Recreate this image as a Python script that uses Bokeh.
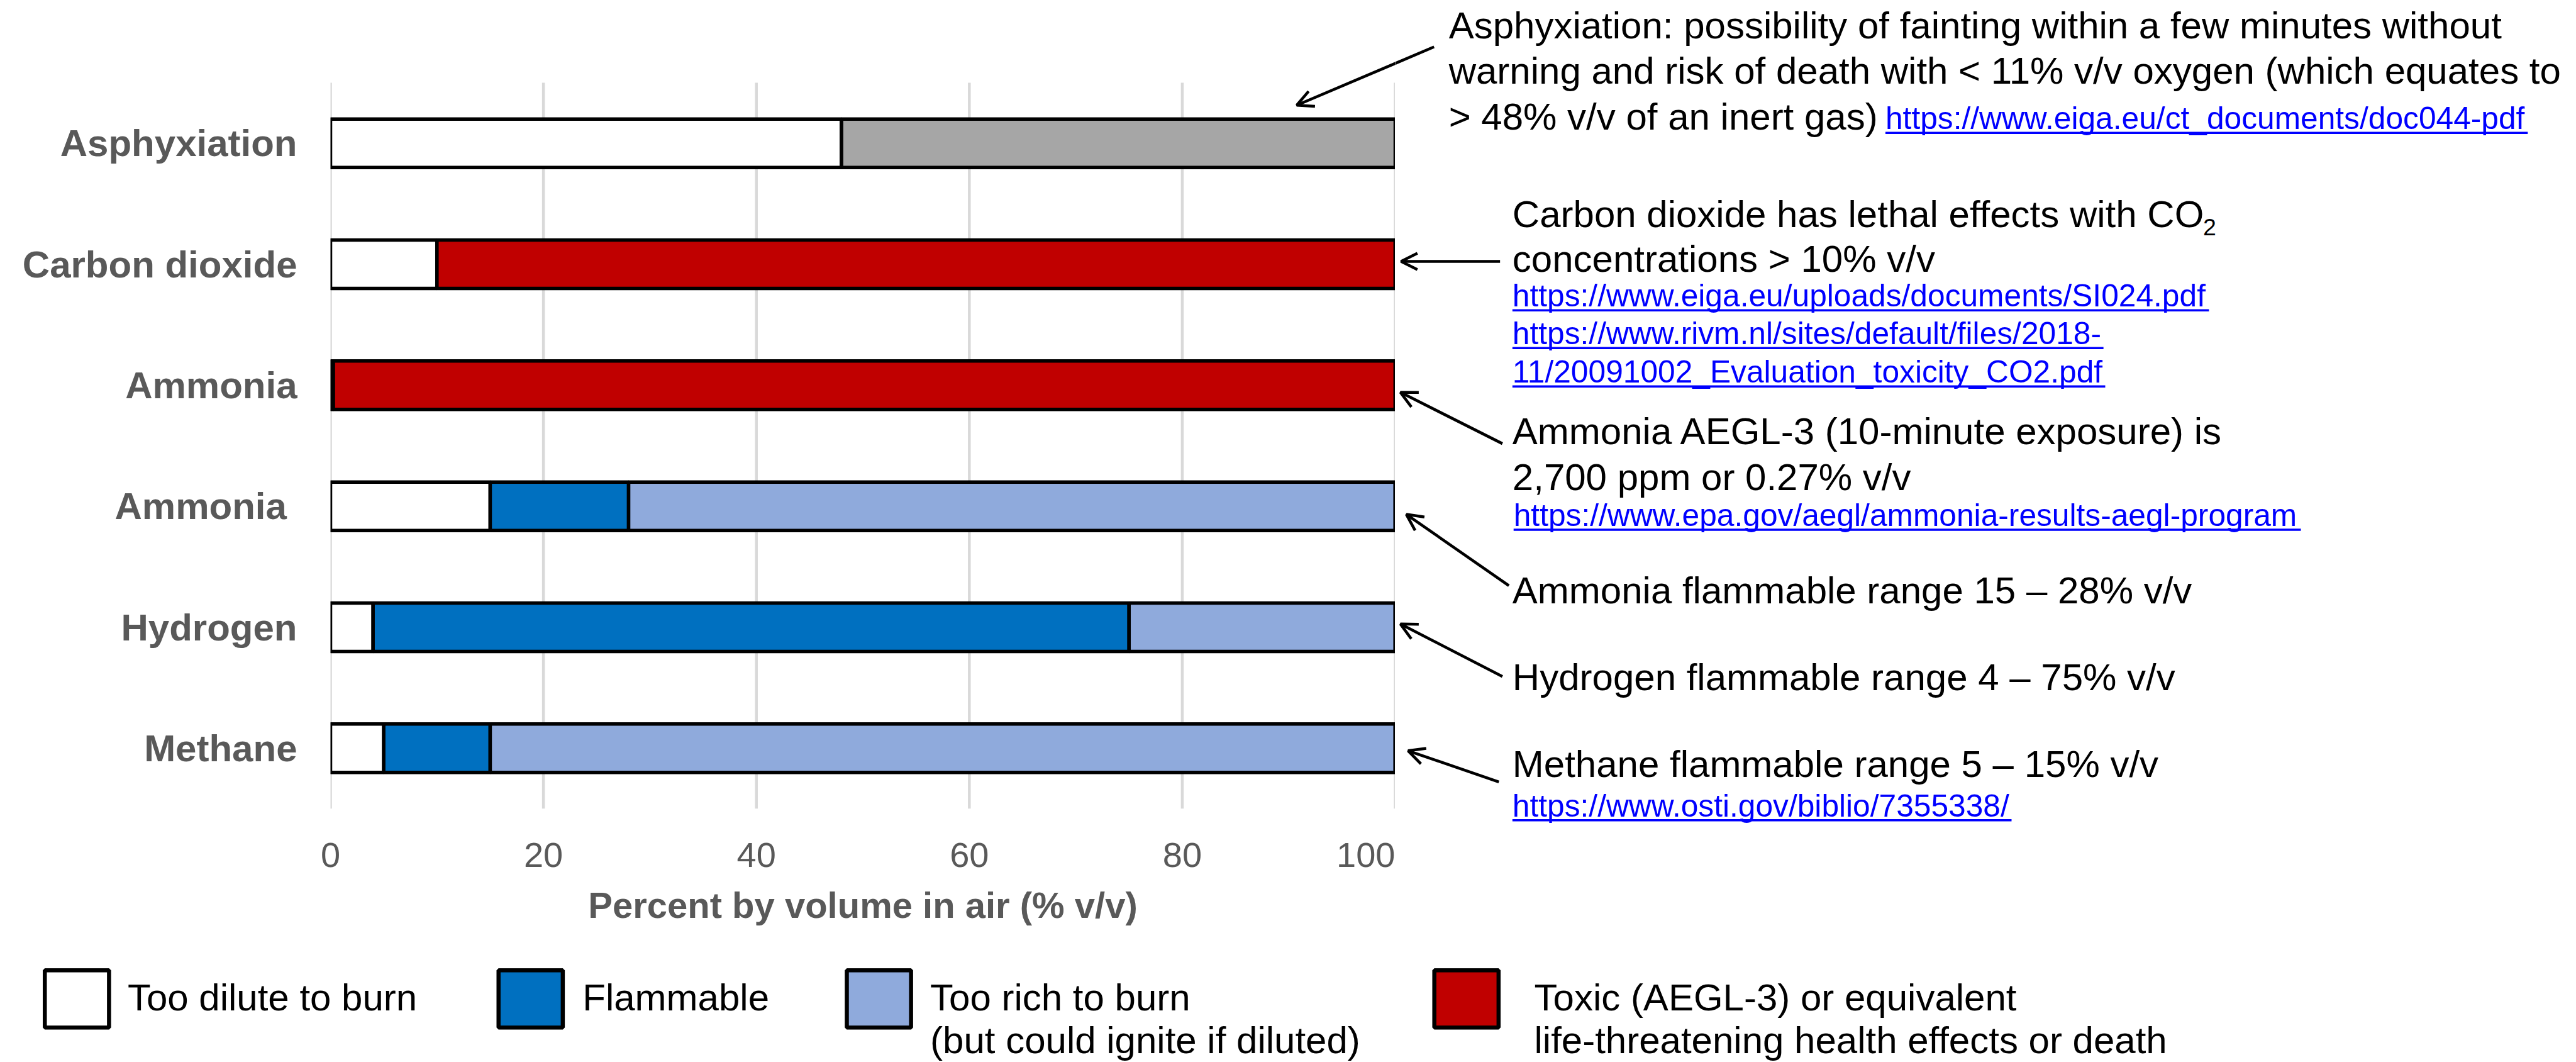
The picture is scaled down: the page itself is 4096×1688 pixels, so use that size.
from bokeh.plotting import figure
from bokeh.models import Range1d, FixedTicker, Arrow, OpenHead, ColumnDataSource
from bokeh.layouts import column, row
from bokeh.embed import file_html
from bokeh.resources import INLINE
from bokeh.core.properties import value

# ---------------- data ----------------
categories = ["Asphyxiation", "Carbon dioxide", "Ammonia", "Ammonia\u00a0", "Hydrogen", "Methane"]
too_dilute = [48, 10, 0.27, 15, 4, 5]
flammable = [0, 0, 0, 13, 71, 10]
too_rich = [0, 0, 0, 72, 25, 85]
toxic = [0, 90, 99.73, 0, 0, 0]
asphyxiant = [52, 0, 0, 0, 0, 0]
x_ticks = [0, 20, 40, 60, 80, 100]
series_names = ["too_dilute", "flammable", "too_rich", "toxic", "asphyxiant"]
series_colors = ["#FFFFFF", "#0070C0", "#8FAADC", "#C00000", "#A6A6A6"]
legend_labels = [["Too dilute to burn"], ["Flammable"],
                 ["Too rich to burn", "(but could ignite if diluted)"],
                 ["Toxic (AEGL-3) or equivalent", "life-threatening health effects or death"]]
legend_colors = ["#FFFFFF", "#0070C0", "#8FAADC", "#C00000"]
x_title = "Percent by volume in air (% v/v)"

FONT = "Liberation Sans"
F = 0.937
W, H = 4096, 1688
H1 = 1480            # height of chart + notes band
H2 = H - H1          # legend band
NCAT = len(categories)

# plotting frame (screen px)
FL, FW = 525, 1693            # frame left / width
FB_TOP, FB_H = 131, 1154      # category band top / height inside frame
FRAME_BOTTOM = FB_TOP + FB_H
W1 = FL + FW                  # width of chart figure
W2 = W - W1                   # width of notes figure

# reference-pixel geometry
RX0, RX1 = FL / F, (FL + FW) / F
RY0 = FB_TOP / F
ROW = FB_H / F / NCAT
RY1 = RY0 + NCAT * ROW


def dx(px):
    return (px - RX0) / (RX1 - RX0) * 100.0


def dy(py):
    return (RY1 - py) / ROW


ypos = [NCAT - 0.5 - i for i in range(NCAT)]
source = ColumnDataSource(dict(ypos=ypos, too_dilute=too_dilute, flammable=flammable,
                               too_rich=too_rich, toxic=toxic, asphyxiant=asphyxiant))

p = figure(width=W1, height=H1, output_backend="svg", toolbar_location=None,
           x_range=Range1d(0, 100), y_range=Range1d(0, dy(0)),
           min_border_left=FL, min_border_right=0,
           min_border_top=0, min_border_bottom=H1 - FRAME_BOTTOM)
p.frame_align = False
p.outline_line_color = None
p.xgrid.visible = False
p.ygrid.visible = False

# vertical grid lines over the category band
p.segment(x0=x_ticks, y0=[0] * len(x_ticks), x1=x_ticks, y1=[NCAT] * len(x_ticks),
          line_color="#D9D9D9", line_width=4.5, level="underlay")

p.hbar_stack(series_names, y="ypos", height=0.40, fill_color=series_colors,
             line_color="black", line_width=5.5, source=source)

p.xaxis.ticker = FixedTicker(ticks=x_ticks)
p.xaxis.axis_line_color = None
p.xaxis.major_tick_line_color = None
p.xaxis.minor_tick_line_color = None
p.xaxis.major_tick_out = 0
p.xaxis.major_label_standoff = 54
p.xaxis.major_label_text_font = FONT
p.xaxis.major_label_text_font_size = "56px"
p.xaxis.major_label_text_color = "#595959"
p.xaxis.axis_label = x_title
p.xaxis.axis_label_text_font = FONT
p.xaxis.axis_label_text_font_size = "58px"
p.xaxis.axis_label_text_font_style = "bold"
p.xaxis.axis_label_text_color = "#595959"
p.xaxis.axis_label_standoff = 25

p.yaxis.bounds = (0, NCAT)
p.yaxis.ticker = FixedTicker(ticks=ypos)
p.yaxis.major_label_overrides = {y: c for y, c in zip(ypos, categories)}
p.yaxis.axis_line_color = None
p.yaxis.major_tick_line_color = None
p.yaxis.minor_tick_line_color = None
p.yaxis.major_tick_out = 0
p.yaxis.major_label_standoff = 53
p.yaxis.major_label_text_font = FONT
p.yaxis.major_label_text_font_size = "60px"
p.yaxis.major_label_text_font_style = "bold"
p.yaxis.major_label_text_color = "#595959"

# ---------------- notes figure (right), in reference pixels ----------------
a = figure(width=W2, height=H1, output_backend="svg", toolbar_location=None,
           x_range=Range1d(W1 / F, W / F), y_range=Range1d(H1 / F, 0),
           x_axis_type=None, y_axis_type=None, min_border=0)
a.frame_align = False
a.outline_line_color = None
a.grid.visible = False

BLACK, BLUE = "black", "#0000FF"
SHIFT = 0.33   # baseline correction (em)
notes = [
    ("Asphyxiation: possibility of fainting within a few minutes without", 2458, 64, 64, BLACK),
    ("warning and risk of death with < 11% v/v oxygen (which equates to", 2458, 141, 64, BLACK),
    ("> 48% v/v of an inert gas)", 2458, 219, 64, BLACK),
    ("https://www.eiga.eu/ct_documents/doc044-pdf", 3199, 218, 53, BLUE),
    ("Carbon dioxide has lethal effects with CO", 2566, 384, 64, BLACK),
    ("2", 3738, 398, 40, BLACK),
    ("concentrations > 10% v/v", 2566, 460, 64, BLACK),
    ("https://www.eiga.eu/uploads/documents/SI024.pdf", 2566, 519, 53, BLUE),
    ("https://www.rivm.nl/sites/default/files/2018-", 2566, 583, 53, BLUE),
    ("11/20091002_Evaluation_toxicity_CO2.pdf", 2566, 648, 53, BLUE),
    ("Ammonia AEGL-3 (10-minute exposure) is", 2566, 752, 64, BLACK),
    ("2,700 ppm or 0.27% v/v", 2566, 830, 64, BLACK),
    ("https://www.epa.gov/aegl/ammonia-results-aegl-program", 2568, 891, 53, BLUE),
    ("Ammonia flammable range 15 \u2013 28% v/v", 2566, 1022, 64, BLACK),
    ("Hydrogen flammable range 4 \u2013 75% v/v", 2566, 1169, 64, BLACK),
    ("Methane flammable range 5 \u2013 15% v/v", 2566, 1317, 64, BLACK),
    ("https://www.osti.gov/biblio/7355338/", 2566, 1384, 53, BLUE),
]
for txt, x, y, s, c in notes:
    a.text(x=[x], y=[y - SHIFT * s], text=[txt], text_font=value(FONT),
           text_font_size=f"{s * F:.1f}px", text_color=c,
           text_baseline="alphabetic", text_align="left")

underlines = [(3199, 4289, 218), (2566, 3748, 519), (2566, 3569, 583),
              (2566, 3572, 648), (2568, 3904, 891), (2566, 3413, 1384)]
a.segment(x0=[u[0] for u in underlines], x1=[u[1] for u in underlines],
          y0=[u[2] + 7 for u in underlines], y1=[u[2] + 7 for u in underlines],
          line_color=BLUE, line_width=3.5)

# pointer arrows (tail -> tip); drawn in both figures, each clipped to its frame
pointers = [((2433, 79), (2200, 178)), ((2545, 443), (2377, 443)),
            ((2549, 752), (2376, 665)), ((2560, 993), (2386, 872)),
            ((2549, 1147), (2376, 1058)), ((2543, 1326), (2389, 1273))]
for (tx, ty), (hx, hy) in pointers:
    a.add_layout(Arrow(end=OpenHead(size=26, line_width=4.5, line_color="black"),
                       x_start=tx, y_start=ty, x_end=hx, y_end=hy,
                       line_color="black", line_width=4.5))
    p.add_layout(Arrow(end=OpenHead(size=26, line_width=4.5, line_color="black"),
                       x_start=dx(tx), y_start=dy(ty), x_end=dx(hx), y_end=dy(hy),
                       line_color="black", line_width=4.5))

# ---------------- legend strip ----------------
top_ref = H1 / F
q = figure(width=W, height=H2, output_backend="svg", toolbar_location=None,
           x_range=Range1d(0, W / F), y_range=Range1d(top_ref + H2 / F, top_ref),
           x_axis_type=None, y_axis_type=None, min_border=0)
q.frame_align = False
q.outline_line_color = None
q.grid.visible = False

box_x = [130, 900, 1491, 2488]
text_x = [216, 988, 1578, 2603]
q.rect(x=box_x, y=[1694] * 4, width=109, height=97, fill_color=legend_colors,
       line_color="black", line_width=6.5)
lx, ly, lt = [], [], []
for i, lines in enumerate(legend_labels):
    for j, t in enumerate(lines):
        lx.append(text_x[i])
        ly.append(1713 + 72 * j - SHIFT * 64)
        lt.append(t)
q.text(x=lx, y=ly, text=lt, text_font=value(FONT), text_font_size=f"{64 * F:.1f}px",
       text_color="black", text_baseline="alphabetic", text_align="left")

layout = column(row(p, a, spacing=0), q, spacing=0)
open("out.html", "w").write(file_html(layout, INLINE))
